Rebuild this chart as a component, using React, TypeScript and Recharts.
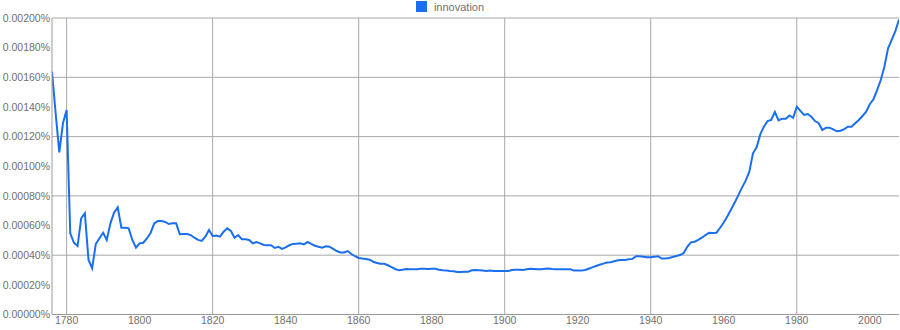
import React from "react";
import { LineChart, Line, XAxis, YAxis, CartesianGrid, Legend } from "recharts";

const START_YEAR = 1776;
const SERIES_NAME = "innovation";

// values in units of 0.00001 %
const innovationValues: number[] = [
  163.8, 135.7, 109.4, 129, 138, 54.8, 48.4, 46.2, 64.9, 68.3, // 1776-1785
  36.8, 31.2, 47.6, 51.4, 55.2, 50.3, 61.5, 68.7, 72.3, 58.5, // 1786-1795
  58.5, 58.1, 50.3, 45.1, 48, 48.4, 51.4, 55, 61.5, 63, // 1796-1805
  63, 62.4, 61, 61.5, 61.5, 54.1, 54.3, 54.3, 53.6, 51.8, // 1806-1815
  50.3, 49.6, 52.5, 57, 53, 53.2, 52.5, 55.8, 58.1, 56.3, // 1816-1825
  51.8, 53.6, 50.7, 50.7, 50.3, 48, 48.9, 48, 46.9, 46.7, // 1826-1835
  46.7, 44.9, 45.7, 44.2, 45.3, 46.7, 47.6, 47.8, 48, 47.3, // 1836-1845
  48.9, 47.6, 46.4, 45.7, 45.1, 46, 45.7, 44.2, 42.8, 41.8, // 1846-1855
  41.9, 42.8, 40.8, 39.3, 38.1, 37.7, 37.4, 37, 35.6, 34.7, // 1856-1865
  34.3, 34.2, 33.2, 32, 30.7, 29.8, 30.2, 30.7, 30.5, 30.5, // 1866-1875
  30.5, 30.9, 30.9, 30.7, 30.9, 30.9, 30.2, 29.8, 29.6, 29.3, // 1876-1885
  29.1, 28.7, 28.7, 28.9, 28.9, 29.8, 30, 29.8, 29.6, 29.4, // 1886-1895
  29.6, 29.3, 29.3, 29.3, 29.3, 29.3, 30, 30.2, 30.2, 30, // 1896-1905
  30.5, 30.9, 30.7, 30.5, 30.5, 30.9, 31.1, 30.7, 30.5, 30.5, // 1906-1915
  30.5, 30.5, 30.5, 29.6, 29.6, 29.6, 30, 30.9, 31.8, 32.7, // 1916-1925
  33.6, 34.3, 35, 35.2, 35.9, 36.6, 36.8, 36.8, 37.2, 37.5, // 1926-1935
  39.3, 39.3, 39, 38.6, 38.6, 39, 39.3, 37.7, 37.7, 38.1, // 1936-1945
  38.8, 39.5, 40.1, 41.3, 45.7, 48.7, 49.1, 50.3, 51.8, 53.6, // 1946-1955
  55.2, 55, 55.2, 58.5, 62, 66.3, 70.8, 75.5, 80.5, 85.6, // 1956-1965
  90.3, 96.3, 108.7, 112.8, 121.5, 126.7, 130.5, 131.2, 136.6, 130.9, // 1966-1975
  132.1, 132.1, 134.3, 132.7, 140.2, 137.3, 134.6, 135.2, 133.4, 130.5, // 1976-1985
  129, 124.4, 126, 126, 124.9, 123.6, 124, 125.1, 126.7, 126.7, // 1986-1995
  129, 131.2, 133.9, 136.8, 141.8, 145.2, 151.4, 158.2, 167.1, 179.5, // 1996-2005
  185.2, 191.2, 199, // 2006-2008
];

const xTicks = [1780, 1800, 1820, 1840, 1860, 1880, 1900, 1920, 1940, 1960, 1980, 2000];
const xGridYears = [1780, 1820, 1860, 1900, 1940, 1980];
const yTicks = [0, 20, 40, 60, 80, 100, 120, 140, 160, 180, 200];
const yGridValues = [40, 80, 120, 160, 200];

const data = innovationValues.map((v, i) => ({ year: START_YEAR + i, value: v }));

const LINE_COLOR = "#1a6ff0";
const TEXT_COLOR = "#707070";
const GRID_COLOR = "#a8a8a8";

const fmtY = (v: number) => (v / 100000).toFixed(5) + "%";

const LegendContent = () => (
  <div
    style={{
      display: "flex",
      alignItems: "center",
      justifyContent: "center",
      height: 13,
      fontSize: 11,
      color: TEXT_COLOR,
      fontFamily: "'Liberation Sans', Arial, sans-serif",
    }}
  >
    <span style={{ display: "inline-block", width: 11, height: 11, background: LINE_COLOR, marginRight: 7 }} />
    <span>{SERIES_NAME}</span>
  </div>
);

export default function App() {
  return (
    <div
      style={{
        position: "absolute",
        left: 0,
        top: 0,
        width: 900,
        height: 330,
        background: "#fff",
        fontFamily: "'Liberation Sans', Arial, sans-serif",
      }}
    >
      <LineChart width={900} height={330} data={data} margin={{ top: 18, right: 1, bottom: 0, left: 0 }}>
        <CartesianGrid
          stroke={GRID_COLOR}
          strokeWidth={1}
          horizontalValues={yGridValues}
          verticalValues={xGridYears}
        />
        <XAxis
          dataKey="year"
          type="number"
          domain={[1776, 2008]}
          ticks={xTicks}
          interval={0}
          height={15.5}
          tickSize={0}
          tickMargin={2}
          tickLine={false}
          axisLine={{ stroke: "#999" }}
          tick={{ fill: TEXT_COLOR, fontSize: 10.5 }}
          allowDataOverflow
        />
        <YAxis
          type="number"
          domain={[0, 200]}
          ticks={yTicks}
          interval={0}
          width={52}
          tickSize={0}
          tickMargin={2}
          tickLine={false}
          axisLine={{ stroke: "#999" }}
          tick={{ fill: TEXT_COLOR, fontSize: 10.5 }}
          tickFormatter={fmtY}
          allowDataOverflow
        />
        <Legend
          verticalAlign="middle"
          layout="horizontal"
          content={<LegendContent />}
          wrapperStyle={{ top: 0, left: 0, width: 900, height: 13 }}
        />
        <Line
          type="linear"
          dataKey="value"
          name={SERIES_NAME}
          stroke={LINE_COLOR}
          strokeWidth={2}
          dot={false}
          activeDot={false}
          isAnimationActive={false}
        />
      </LineChart>
    </div>
  );
}
